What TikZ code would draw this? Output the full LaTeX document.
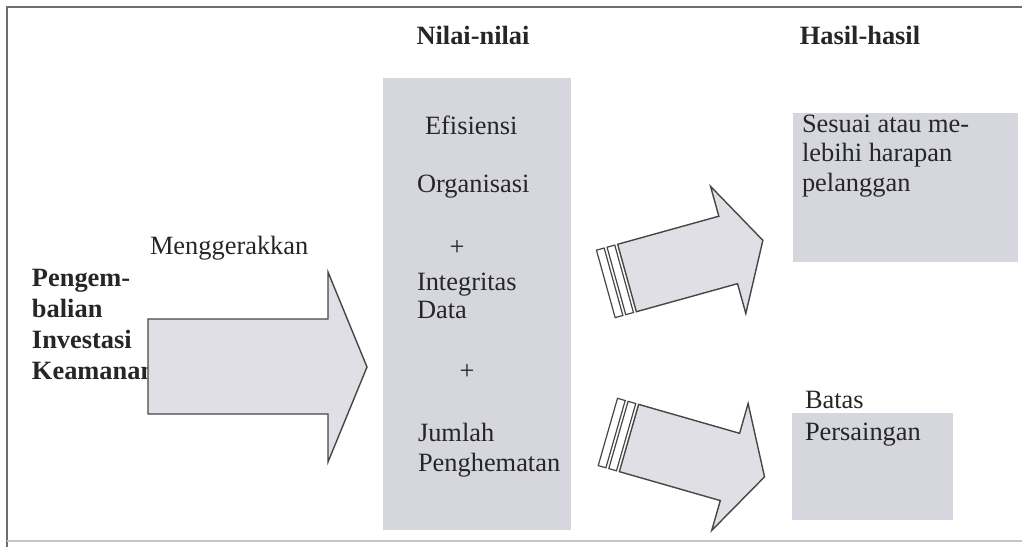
\documentclass[tikz,border=0pt]{standalone}
\usepackage{fontspec}
\setmainfont{Liberation Serif}
\usepackage{tikz}

\definecolor{panelgray}{RGB}{214,215,222}
\definecolor{arrowgray}{RGB}{223,223,229}
\definecolor{edgegray}{RGB}{70,70,70}
\definecolor{framegray}{RGB}{110,110,110}

\begin{document}
\begin{tikzpicture}[
x=0.5pt, y=-0.5pt,
every node/.style={inner sep=0pt, outer sep=0pt},
txt/.style={font=\fontsize{13.2}{14.6}\selectfont, align=left, anchor=west, text=black!85},
head/.style={font=\fontsize{13.2}{15}\selectfont\bfseries, text=black!85},
panel/.style={fill=panelgray, anchor=north west},
fat/.style={draw=edgegray, line width=0.7pt, fill=arrowgray, line join=miter},
band/.style={draw=edgegray, line width=0.6pt, fill=white},
pics/thrust/.style={code={
  \draw[band] (-22,-35) rectangle (-14,35);
  \draw[band] (-11,-35) rectangle (-3,35);
  \draw[fat] (0,-35) -- (105,-35) -- (105,-66) -- (141,0) -- (105,66) -- (105,35) -- (0,35) -- cycle;
}}
]
\useasboundingbox (0,0) rectangle (1022,547);
% frame
\draw[framegray, line width=1pt] (7,547) -- (7,7) -- (1022,7);
\draw[framegray!40, line width=0.8pt] (7,541) -- (1022,541);

% headings
\node[head] (nilai) at (473,35) {Nilai-nilai};
\node[head] (hasil) at (860,35) {Hasil-hasil};

% grey panels
\node[panel, minimum width=94pt, minimum height=226pt] (values) at (383,78) {};
\node[panel, minimum width=112.5pt, minimum height=74.5pt] (expect) at (793,113) {};
\node[panel, minimum width=80.5pt, minimum height=53.5pt] (edge) at (792,413) {};

% values
\node[txt] (eff) at (425,125) {Efisiensi};
\node[txt] (org) at (417,187) {Organisasi};
\node[txt, anchor=center] (plusa) at (457,248) {+};
\node[txt, font=\fontsize{13.2}{14}\selectfont] (integ) at (417,296) {Integritas\\Data};
\node[txt, anchor=center] (plusb) at (467,372) {+};
\node[txt, font=\fontsize{13.2}{15}\selectfont] (save) at (418,450) {Jumlah\\Penghematan};

% results
\node[txt] (meet) at (802,156) {Sesuai atau me-\\lebihi harapan\\pelanggan};
\node[txt, font=\fontsize{13.2}{16}\selectfont] (comp) at (805,419) {Batas\\Persaingan};

% left side
\node[txt] (drive) at (150,248) {Menggerakkan};
\node[txt, font=\fontsize{13.2}{15.5}\selectfont\bfseries] (roi) at (32,324) {Pengem-\\balian\\Investasi\\Keamanan};

% block arrows
\draw[fat] (148,319) -- (328,319) -- (328,272) -- (367,367) -- (328,462) -- (328,414) -- (148,414) -- cycle;
\pic[rotate=15.5] at (627,278) {thrust};
\pic[rotate=-16] at (629,438) {thrust};
\end{tikzpicture}
\end{document}
